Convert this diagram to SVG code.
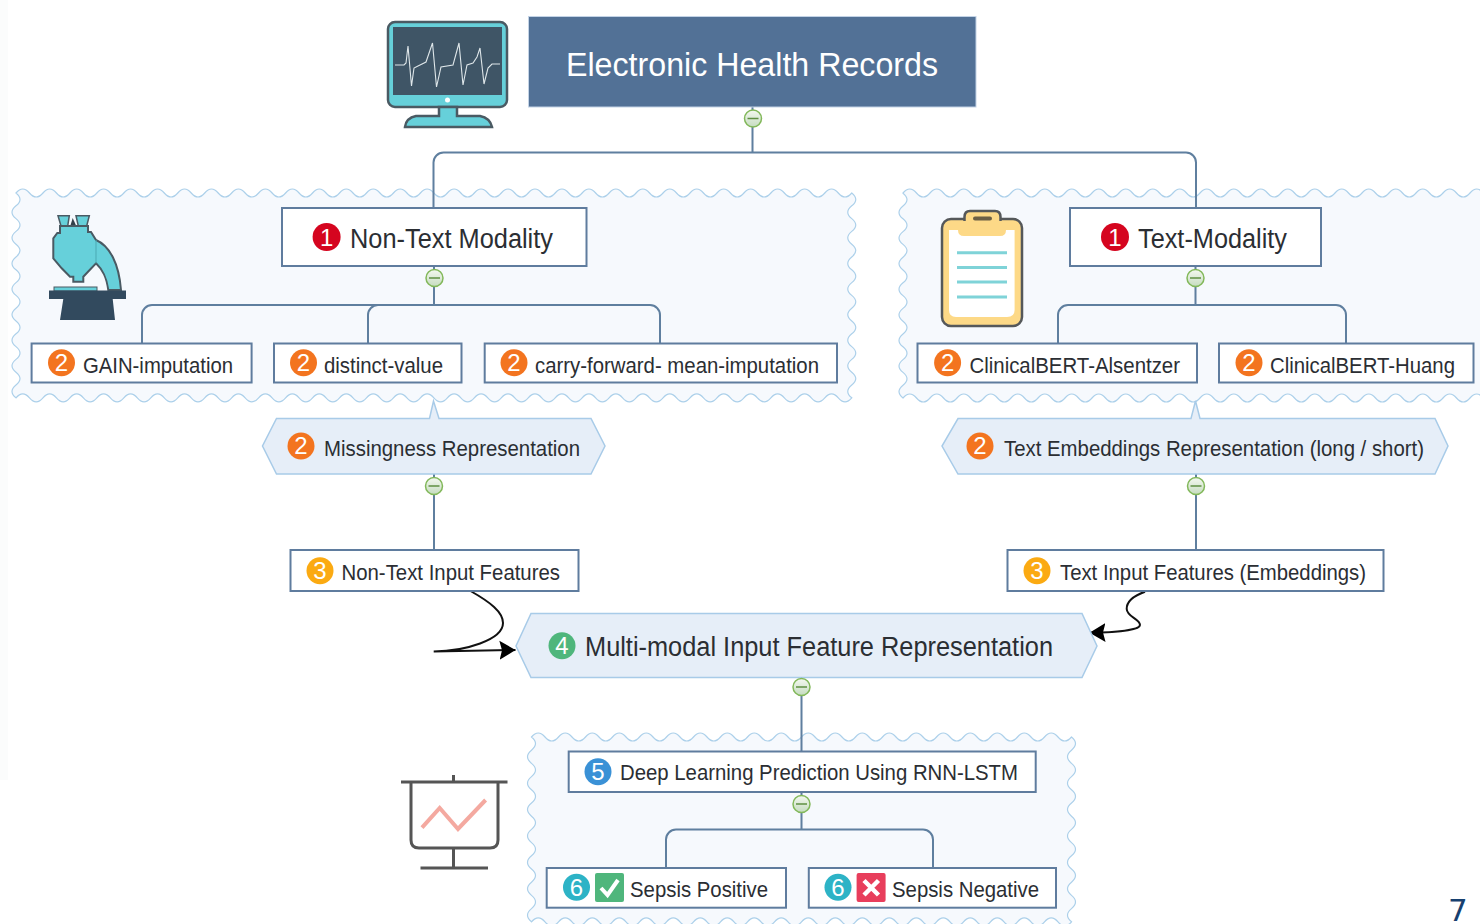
<svg xmlns="http://www.w3.org/2000/svg" width="1480" height="924" viewBox="0 0 1480 924">
<style>
text{font-family:"Liberation Sans",Arial,sans-serif;fill:#2b2e33}
.frame{fill:#f6f9fd;stroke:#acd0ea;stroke-width:1.2}
.box{fill:#fff;stroke:#5f7c9e;stroke-width:2}
.hex{fill:#e6eef8;stroke:#a8cbe8;stroke-width:1.5}
.conn{fill:none;stroke:#5f7f9f;stroke-width:2}
.curve{fill:none;stroke:#111;stroke-width:2}
.col{fill:url(#cg);stroke:#82b85a;stroke-width:1.5}
.colbar{stroke:#5f8f42;stroke-width:1.5}
.num{fill:#fff;text-anchor:middle;font-size:24px}
.t21{font-size:22px}
.t26{font-size:27px}
.b1{fill:#d5051f}.b2{fill:#f3741f}.b3{fill:#fbaa12}.b4{fill:#4fb67c}.b5{fill:#3a91d6}.b6{fill:#2db3c6}
</style>
<defs>
<linearGradient id="cg" x1="0" y1="0" x2="0" y2="1"><stop offset="0" stop-color="#f4f8f0"/><stop offset="1" stop-color="#c5dcc0"/></linearGradient>
<marker id="ah" markerUnits="userSpaceOnUse" markerWidth="18" markerHeight="20" refX="16" refY="10" orient="auto"><path d="M0 0.500L16 10L0 19.500L2.500 10Z" fill="#000"/></marker>
</defs>
<rect x="0" y="0" width="8" height="780" fill="#fbfcfc"/>

<g id="frame-non-text"><path class="frame" d="M16 193q6.74 -8 13.48 0
t13.48 0t13.48 0t13.48 0t13.48 0t13.48 0t13.48 0t13.48 0t13.48 0t13.48 0t13.48 0
t13.48 0t13.48 0t13.48 0t13.48 0t13.48 0t13.48 0t13.48 0t13.48 0t13.48 0t13.48 0
t13.48 0t13.48 0t13.48 0t13.48 0t13.48 0t13.48 0t13.48 0t13.48 0t13.48 0t13.48 0
t13.48 0t13.48 0t13.48 0t13.48 0t13.48 0t13.48 0t13.48 0t13.48 0t13.48 0t13.48 0
t13.48 0t13.48 0t13.48 0t13.48 0t13.48 0t13.48 0t13.48 0t13.48 0t13.48 0t13.48 0
t13.48 0t13.48 0t13.48 0t13.48 0t13.48 0t13.48 0t13.48 0t13.48 0t13.48 0t13.48 0
t13.48 0
q8 6.4 0 12.8t0 12.8t0 12.8t0 12.8t0 12.8t0 12.8t0 12.8t0 12.8t0 12.8t0 12.8t0 12.8t0 12.8t0 12.8t0 12.8t0 12.8t0 12.8
q-6.74 8 -13.48 0
t-13.48 0t-13.48 0t-13.48 0t-13.48 0t-13.48 0t-13.48 0t-13.48 0t-13.48 0t-13.48 0t-13.48 0
t-13.48 0t-13.48 0t-13.48 0t-13.48 0t-13.48 0t-13.48 0t-13.48 0t-13.48 0t-13.48 0t-13.48 0
t-13.48 0t-13.48 0t-13.48 0t-13.48 0t-13.48 0t-13.48 0t-13.48 0t-13.48 0t-13.48 0t-13.48 0
t-13.48 0t-13.48 0t-13.48 0t-13.48 0t-13.48 0t-13.48 0t-13.48 0t-13.48 0t-13.48 0t-13.48 0
t-13.48 0t-13.48 0t-13.48 0t-13.48 0t-13.48 0t-13.48 0t-13.48 0t-13.48 0t-13.48 0t-13.48 0
t-13.48 0t-13.48 0t-13.48 0t-13.48 0t-13.48 0t-13.48 0t-13.48 0t-13.48 0t-13.48 0t-13.48 0
t-13.48 0
q-8 -6.4 0 -12.8t0 -12.8t0 -12.8t0 -12.8t0 -12.8t0 -12.8t0 -12.8t0 -12.8t0 -12.8t0 -12.8t0 -12.8t0 -12.8t0 -12.8t0 -12.8t0 -12.8t0 -12.8Z"/></g>

<g id="frame-text"><path class="frame" d="M903 193q6.75 -8 13.5 0t13.5 0t13.5 0t13.5 0t13.5 0t13.5 0t13.5 0t13.5 0t13.5 0t13.5 0t13.5 0t13.5 0t13.5 0t13.5 0t13.5 0t13.5 0t13.5 0t13.5 0t13.5 0t13.5 0t13.5 0t13.5 0t13.5 0t13.5 0t13.5 0t13.5 0t13.5 0t13.5 0t13.5 0t13.5 0t13.5 0t13.5 0t13.5 0t13.5 0t13.5 0t13.5 0t13.5 0t13.5 0t13.5 0t13.5 0t13.5 0t13.5 0t13.5 0t13.5 0V398q-6.75 8 -13.5 0t-13.5 0t-13.5 0t-13.5 0t-13.5 0t-13.5 0t-13.5 0t-13.5 0t-13.5 0t-13.5 0t-13.5 0t-13.5 0t-13.5 0t-13.5 0t-13.5 0t-13.5 0t-13.5 0t-13.5 0t-13.5 0t-13.5 0t-13.5 0t-13.5 0t-13.5 0t-13.5 0t-13.5 0t-13.5 0t-13.5 0t-13.5 0t-13.5 0t-13.5 0t-13.5 0t-13.5 0t-13.5 0t-13.5 0t-13.5 0t-13.5 0t-13.5 0t-13.5 0t-13.5 0t-13.5 0t-13.5 0t-13.5 0t-13.5 0t-13.5 0q-8 -6.4 0 -12.8t0 -12.8t0 -12.8t0 -12.8t0 -12.8t0 -12.8t0 -12.8t0 -12.8t0 -12.8t0 -12.8t0 -12.8t0 -12.8t0 -12.8t0 -12.8t0 -12.8t0 -12.8Z"/></g>

<g id="frame-prediction"><path class="frame" d="M531.5 737q6.75 -8 13.5 0t13.5 0t13.5 0t13.5 0t13.5 0t13.5 0t13.5 0t13.5 0t13.5 0t13.5 0t13.5 0t13.5 0t13.5 0t13.5 0t13.5 0t13.5 0t13.5 0t13.5 0t13.5 0t13.5 0t13.5 0t13.5 0t13.5 0t13.5 0t13.5 0t13.5 0t13.5 0t13.5 0t13.5 0t13.5 0t13.5 0t13.5 0t13.5 0t13.5 0t13.5 0t13.5 0t13.5 0t13.5 0t13.5 0t13.5 0q8 6.6 0 13.2t0 13.2t0 13.2t0 13.2t0 13.2t0 13.2t0 13.2t0 13.2t0 13.2t0 13.2t0 13.2t0 13.2t0 13.2t0 13.2q-6.75 8 -13.5 0t-13.5 0t-13.5 0t-13.5 0t-13.5 0t-13.5 0t-13.5 0t-13.5 0t-13.5 0t-13.5 0t-13.5 0t-13.5 0t-13.5 0t-13.5 0t-13.5 0t-13.5 0t-13.5 0t-13.5 0t-13.5 0t-13.5 0t-13.5 0t-13.5 0t-13.5 0t-13.5 0t-13.5 0t-13.5 0t-13.5 0t-13.5 0t-13.5 0t-13.5 0t-13.5 0t-13.5 0t-13.5 0t-13.5 0t-13.5 0t-13.5 0t-13.5 0t-13.5 0t-13.5 0t-13.5 0q-8 -6.6 0 -13.2t0 -13.2t0 -13.2t0 -13.2t0 -13.2t0 -13.2t0 -13.2t0 -13.2t0 -13.2t0 -13.2t0 -13.2t0 -13.2t0 -13.2t0 -13.2Z"/></g>

<g id="connectors">
<path class="conn" d="M752.5 107V152.5M433.5 208V162.5a10 10 0 0 1 10 -10H1186a10 10 0 0 1 10 10V208"/>
<path class="conn" d="M434 266V305M142 343V315a10 10 0 0 1 10 -10H650a10 10 0 0 1 10 10V343M368 343V315a10 10 0 0 1 10 -10"/>
<path class="conn" d="M1195.5 266V305M1058 343V315a10 10 0 0 1 10 -10H1336a10 10 0 0 1 10 10V343"/>
<path class="conn" d="M434 474V550M1196 474V550"/>
<path class="conn" d="M801.5 677V751M801.5 792V829.5M666 868V839.5a10 10 0 0 1 10 -10H923a10 10 0 0 1 10 10V868"/>
<path class="curve" d="M470.5 591C490 602 503 612 503 623C503 640 465 651 433.7 651.5L515.5 650" marker-end="url(#ah)"/>
<path class="curve" d="M1145 591.700C1133 596 1126.500 602 1126.700 609C1127 617 1140 619 1140 625C1140 630 1116 632.500 1089.500 632.700" marker-end="url(#ah)"/>
</g>

<g id="icon-monitor">
<rect x="388" y="22" width="119" height="85" rx="7" fill="#66d0da" stroke="#4a5a63" stroke-width="2.5"/>
<rect x="393" y="27" width="109" height="68" fill="#3f5566"/>
<circle cx="447.5" cy="100" r="2.5" fill="#fff"/>
<path d="M439 107V116H416Q406 118 405 127H492Q490 118 480 116H457V107Z" fill="#66d0da" stroke="#4a5a63" stroke-width="2.5"/>
<polyline points="395,65 404,65 406,63 408,46 411.5,86 414,68 418,66 426,62 432.5,43 436.5,87 441,67 453,65 459,43 463,85 467,65 473,63 477,57 480,48 484,84 488,68 492,64 500,64" fill="none" stroke="#dfe7ea" stroke-width="1.100"/>
</g>

<g id="node-ehr">
<rect x="528.500" y="16.500" width="447.500" height="90.500" fill="#527196" stroke="#c3d3e6"/>
<text x="566" y="76" font-size="33" style="fill:#fff" textLength="372" lengthAdjust="spacingAndGlyphs">Electronic Health Records</text>
</g>
<g id="collapse-ehr"><circle class="col" cx="753" cy="118.500" r="8.500"/><path class="colbar" d="M747.500 118.500H758.500"/></g>

<g id="icon-microscope">
<path d="M58 215.700H69.300L67.700 226H61ZM76 215.700H89.300L86.700 226H78.300Z" fill="#66d0da" stroke="#4a5a63" stroke-width="1.500"/>
<path d="M72.700 218L70 227H76.700Z" fill="#33404a"/>
<path d="M60 226H88V232H91L96 240C110 246 119 264 121 290H108.300C106.500 277 103 270 96 263.300L88 271.700L83.300 276.700V281.700H73.300V276.700L70 276.700L61.700 268.300L53.300 258.300V238.300L57.300 233H60Z" fill="#66d0da" stroke="#4a5a63" stroke-width="2"/>
<path d="M96 240V263.300" stroke="#4aa9b3" stroke-width="1"/>
<rect x="54" y="287" width="43" height="4" fill="#66d0da" stroke="#4a5a63"/>
<path d="M49 290.500H126V299H112.700L115 320H60L63.300 299H49Z" fill="#324a5e"/>
</g>

<g id="node-non-text">
<rect class="box" x="282" y="208" width="304.500" height="58"/>
<circle class="b1" cx="326.600" cy="237" r="14"/><text class="num" x="326.600" y="246">1</text>
<text class="t26" x="350" y="248" textLength="203" lengthAdjust="spacingAndGlyphs">Non-Text Modality</text>
</g>
<g id="collapse-non-text"><circle class="col" cx="434.500" cy="278" r="8.500"/><path class="colbar" d="M429 278H440"/></g>

<g id="node-gain"><rect class="box" x="31.600" y="343.500" width="220" height="39"/><circle class="b2" cx="61.500" cy="362.700" r="13.500"/><text class="num" x="61.500" y="371">2</text><text class="t21" x="83" y="373" textLength="150" lengthAdjust="spacingAndGlyphs">GAIN-imputation</text></g>
<g id="node-distinct"><rect class="box" x="274" y="343.500" width="187.500" height="39"/><circle class="b2" cx="303.500" cy="362.700" r="13.500"/><text class="num" x="303.500" y="371">2</text><text class="t21" x="324" y="373" textLength="119" lengthAdjust="spacingAndGlyphs">distinct-value</text></g>
<g id="node-carry"><rect class="box" x="484.700" y="343.500" width="352.300" height="39"/><circle class="b2" cx="514" cy="362.700" r="13.500"/><text class="num" x="514" y="371">2</text><text class="t21" x="535" y="373" textLength="284" lengthAdjust="spacingAndGlyphs">carry-forward- mean-imputation</text></g>

<g id="icon-clipboard">
<rect x="942" y="219" width="80" height="107" rx="9" fill="#fdd987" stroke="#55585a" stroke-width="2.500"/>
<path d="M964.500 221V217Q964.500 211 970 211H995Q1000.500 211 1000.500 217V221" fill="#fdd987" stroke="#55585a" stroke-width="2.500"/>
<rect x="973" y="216.500" width="19" height="4" rx="2" fill="#6b5f45"/>
<path d="M949 230H958Q958 236 964 236H1000Q1006 236 1006 230H1014.600V310Q1014.600 317 1007 317H956Q949 317 949 310Z" fill="#fff"/>
<path d="M957 252.700H1007M957 267.500H1007M957 282H1007M957 297H1007" stroke="#7fd3d8" stroke-width="3"/>
</g>

<g id="node-text">
<rect class="box" x="1070" y="208" width="251" height="58"/>
<circle class="b1" cx="1115" cy="237" r="14"/><text class="num" x="1115" y="246">1</text>
<text class="t26" x="1138" y="248" textLength="149" lengthAdjust="spacingAndGlyphs">Text-Modality</text>
</g>
<g id="collapse-text"><circle class="col" cx="1195.500" cy="278" r="8.500"/><path class="colbar" d="M1190 278H1201"/></g>

<g id="node-alsentzer"><rect class="box" x="917.500" y="343.500" width="279.500" height="39"/><circle class="b2" cx="947.600" cy="362.700" r="13.500"/><text class="num" x="947.600" y="371">2</text><text class="t21" x="969.500" y="373" textLength="210.500" lengthAdjust="spacingAndGlyphs">ClinicalBERT-Alsentzer</text></g>
<g id="node-huang"><rect class="box" x="1219" y="343.500" width="254.500" height="39"/><circle class="b2" cx="1249" cy="362.700" r="13.500"/><text class="num" x="1249" y="371">2</text><text class="t21" x="1270" y="373" textLength="185" lengthAdjust="spacingAndGlyphs">ClinicalBERT-Huang</text></g>

<g id="node-missingness">
<path class="hex" d="M276.500 418.500H429.500L433.500 401L439 418.500H591L605 446L591 474H276.500L262.500 446Z"/>
<circle class="b2" cx="301" cy="446" r="13.500"/><text class="num" x="301" y="454">2</text>
<text class="t21" x="324" y="456" textLength="256" lengthAdjust="spacingAndGlyphs">Missingness Representation</text>
</g>
<g id="collapse-missingness"><circle class="col" cx="434" cy="486" r="8.500"/><path class="colbar" d="M428.500 486H439.500"/></g>

<g id="node-embeddings">
<path class="hex" d="M958 418.500H1191L1195.500 401L1200 418.500H1435L1448 446L1435 474H958L942 446Z"/>
<circle class="b2" cx="980" cy="446" r="13.500"/><text class="num" x="980" y="454">2</text>
<text class="t21" x="1004" y="456" textLength="420" lengthAdjust="spacingAndGlyphs">Text Embeddings Representation (long / short)</text>
</g>
<g id="collapse-embeddings"><circle class="col" cx="1196" cy="486" r="8.500"/><path class="colbar" d="M1190.500 486H1201.500"/></g>

<g id="node-non-text-input"><rect class="box" x="290.500" y="550" width="288" height="41"/><circle class="b3" cx="320" cy="570.700" r="13.500"/><text class="num" x="320" y="579">3</text><text class="t21" x="341.500" y="580" textLength="218.500" lengthAdjust="spacingAndGlyphs">Non-Text Input Features</text></g>
<g id="node-text-input"><rect class="box" x="1007.500" y="550" width="376" height="41"/><circle class="b3" cx="1037" cy="570.700" r="13.500"/><text class="num" x="1037" y="579">3</text><text class="t21" x="1060" y="580" textLength="306" lengthAdjust="spacingAndGlyphs">Text Input Features (Embeddings)</text></g>

<g id="node-multimodal">
<path class="hex" d="M531 613.500H1082L1097 646L1082 677.500H531L516 646Z"/>
<circle class="b4" cx="562" cy="645.700" r="13.500"/><text class="num" x="562" y="654">4</text>
<text class="t26" x="585" y="656" textLength="468" lengthAdjust="spacingAndGlyphs">Multi-modal Input Feature Representation</text>
</g>
<g id="collapse-multimodal"><circle class="col" cx="801.500" cy="687" r="8.500"/><path class="colbar" d="M796 687H807"/></g>

<g id="icon-presentation" fill="none" stroke="#555" stroke-width="3">
<path d="M401 782H507.500M453.500 775V782M411 782V840Q411 848 419 848H490Q498 848 498 840V782M453.500 848V868M420.500 868H488"/>
<path d="M422 827.700L439.700 808L458 829L485.600 800" stroke="#f4a9a0" stroke-width="4"/>
</g>

<g id="node-deep"><rect class="box" x="568.700" y="751.500" width="467" height="40.500"/><circle class="b5" cx="598" cy="771.700" r="13.500"/><text class="num" x="598" y="780">5</text><text class="t21" x="620" y="780" textLength="398" lengthAdjust="spacingAndGlyphs">Deep Learning Prediction Using RNN-LSTM</text></g>
<g id="collapse-deep"><circle class="col" cx="801.500" cy="804" r="8.500"/><path class="colbar" d="M796 804H807"/></g>

<g id="node-positive"><rect class="box" x="546.700" y="868" width="239.300" height="39.700"/><circle class="b6" cx="576.500" cy="887.300" r="13.500"/><text class="num" x="576.500" y="896">6</text>
<rect x="595" y="873" width="29" height="29" rx="2" fill="#4fb67c"/><path d="M601 888L607.500 895L618 880" fill="none" stroke="#fff" stroke-width="4"/>
<text class="t21" x="630" y="897" textLength="138" lengthAdjust="spacingAndGlyphs">Sepsis Positive</text></g>
<g id="node-negative"><rect class="box" x="808.800" y="868" width="247.200" height="39.700"/><circle class="b6" cx="838" cy="887.300" r="13.500"/><text class="num" x="838" y="896">6</text>
<rect x="856.600" y="873" width="29" height="29" rx="2" fill="#e83e5c"/><path d="M864 880.500L878.500 895M878.500 880.500L864 895" fill="none" stroke="#fff" stroke-width="4.500"/>
<text class="t21" x="892" y="897" textLength="147" lengthAdjust="spacingAndGlyphs">Sepsis Negative</text></g>

<text x="1448" y="921" font-size="31" style="font-family:'DejaVu Sans',sans-serif;fill:#17406f">7</text>
</svg>
